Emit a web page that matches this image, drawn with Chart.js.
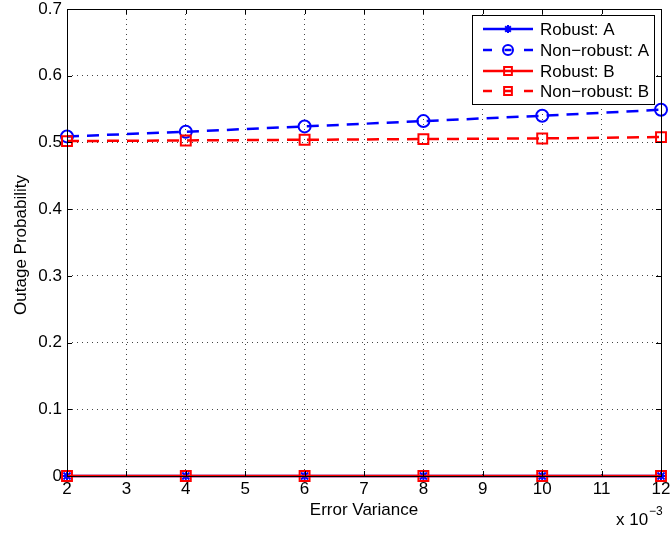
<!DOCTYPE html>
<html>
<head>
<meta charset="utf-8">
<script src="https://cdn.jsdelivr.net/npm/chart.js@4/dist/chart.umd.min.js"></script>
<style>
  html, body { margin: 0; padding: 0; background: #fff; }
  #wrap { width: 672px; height: 533px; position: relative; }
</style>
</head>
<body>
<div id="wrap"><canvas id="outageChart"></canvas></div>
<script>
const errorVariance = [2, 4, 6, 8, 10, 12];
const robustA = [0, 0, 0, 0, 0, 0];
const nonRobustA = [0.509, 0.516, 0.524, 0.532, 0.540, 0.549];
const robustB = [0, 0, 0, 0, 0, 0];
const nonRobustB = [0.502, 0.503, 0.504, 0.505, 0.506, 0.508];

const xTicks = [2, 3, 4, 5, 6, 7, 8, 9, 10, 11, 12];
const yTicks = [0, 0.1, 0.2, 0.3, 0.4, 0.5, 0.6, 0.7];

const font = "Liberation Sans, Arial, Helvetica, sans-serif";
const fontSize = 17;
const blue = "#0000ff";
const red = "#ff0000";

const toPoints = (ys) => errorVariance.map((x, i) => ({ x, y: ys[i] }));

const series = [
    { label: "Robust: A", data: robustA, color: blue, dash: [], style: "star", radius: 5, order: 3 },
    { label: "Non\u2212robust: A", data: nonRobustA, color: blue, dash: [12, 8], style: "circle", radius: 6, order: 2 },
    { label: "Robust: B", data: robustB, color: red, dash: [], style: "rect", radius: 7, order: 1 },
    { label: "Non\u2212robust: B", data: nonRobustB, color: red, dash: [12, 8], style: "rect", radius: 7, order: 0 },
];

const datasets = series.map((s) => ({
    label: s.label,
    data: toPoints(s.data),
    borderColor: s.color,
    backgroundColor: s.color,
    borderWidth: 2.5,
    borderDash: s.dash,
    pointStyle: s.style,
    pointRadius: s.radius,
    pointBorderColor: s.color,
    pointBackgroundColor: "rgba(0,0,0,0)",
    pointBorderWidth: 2,
    tension: 0,
    clip: false,
    order: s.order,
}));

// axes box, inward ticks, titles and a MATLAB-style legend
const matlabFrame = {
    id: "matlabFrame",
    afterDraw(chart) {
        const { ctx, chartArea: a, scales } = chart;
        ctx.save();
        ctx.strokeStyle = "#000";
        ctx.lineWidth = 1;
        ctx.setLineDash([]);
        ctx.strokeRect(a.left + 0.5, a.top + 0.5, a.right - a.left, a.bottom - a.top);

        ctx.beginPath();
        const tl = 5;
        xTicks.forEach((v) => {
            const px = Math.round(scales.x.getPixelForValue(v)) + 0.5;
            ctx.moveTo(px, a.bottom); ctx.lineTo(px, a.bottom - tl);
            ctx.moveTo(px, a.top); ctx.lineTo(px, a.top + tl);
        });
        yTicks.forEach((v) => {
            const py = Math.round(scales.y.getPixelForValue(v)) + 0.5;
            ctx.moveTo(a.left, py); ctx.lineTo(a.left + tl, py);
            ctx.moveTo(a.right, py); ctx.lineTo(a.right - tl, py);
        });
        ctx.stroke();

        ctx.fillStyle = "#000";
        ctx.font = fontSize + "px " + font;
        ctx.textAlign = "center";
        ctx.textBaseline = "middle";
        ctx.fillText("Error Variance", 364, 510);

        ctx.save();
        ctx.translate(21, 245);
        ctx.rotate(-Math.PI / 2);
        ctx.fillText("Outage Probability", 0, 0);
        ctx.restore();

        ctx.textAlign = "left";
        ctx.textBaseline = "alphabetic";
        ctx.fillText("x 10", 616, 525);
        ctx.font = "12px " + font;
        ctx.fillText("\u22123", 649, 515);

        // legend
        const lx = 472, ly = 15, lw = 182, lh = 89;
        ctx.fillStyle = "#fff";
        ctx.fillRect(lx, ly, lw, lh);
        ctx.strokeRect(lx + 0.5, ly + 0.5, lw, lh);
        const rows = [29, 50, 71, 91];
        chart.data.datasets.forEach((ds, i) => {
            const y = rows[i];
            ctx.save();
            ctx.strokeStyle = ds.borderColor;
            ctx.fillStyle = "rgba(0,0,0,0)";
            ctx.lineWidth = 2.5;
            ctx.setLineDash(ds.borderDash.length ? [9, 12.5, 7, 12.5, 9, 0] : []);
            ctx.beginPath();
            ctx.moveTo(483, y);
            ctx.lineTo(533, y);
            ctx.stroke();
            ctx.setLineDash([]);
            ctx.lineWidth = 2;
            Chart.helpers.drawPoint(ctx, {
                pointStyle: ds.pointStyle,
                radius: ds.pointStyle === "rect" ? 5.5 : ds.pointRadius - 1,
                borderWidth: 2,
                rotation: 0,
            }, 508, y);
            ctx.restore();
            ctx.fillStyle = "#000";
            ctx.font = fontSize + "px " + font;
            ctx.textBaseline = "middle";
            ctx.fillText(ds.label, 540, y + 1);
        });
        ctx.restore();
    },
};

new Chart(document.getElementById("outageChart"), {
    type: "line",
    data: { datasets },
    options: {
        responsive: true,
        maintainAspectRatio: false,
        animation: false,
        layout: { padding: { left: 0, top: 8, right: 11, bottom: 0 } },
        plugins: { legend: { display: false }, tooltip: { enabled: false } },
        scales: {
            x: {
                type: "linear",
                min: 2,
                max: 12,
                afterBuildTicks(scale) { scale.ticks = xTicks.map((value) => ({ value })); },
                afterFit(scale) { scale.height = 57; scale.paddingLeft = 0; scale.paddingRight = 0; },
                grid: { color: "#444", lineWidth: 1, drawTicks: false },
                border: { display: false, dash: [1, 4] },
                ticks: { color: "#000", padding: 3, font: { family: font, size: fontSize }, maxRotation: 0 },
            },
            y: {
                min: 0,
                max: 0.7,
                afterBuildTicks(scale) { scale.ticks = yTicks.map((value) => ({ value })); },
                afterFit(scale) { scale.width = 67; scale.paddingTop = 0; scale.paddingBottom = 0; },
                grid: { color: "#444", lineWidth: 1, drawTicks: false },
                border: { display: false, dash: [1, 4] },
                ticks: { color: "#000", padding: 5, font: { family: font, size: fontSize } },
            },
        },
    },
    plugins: [matlabFrame],
});
</script>
</body>
</html>
